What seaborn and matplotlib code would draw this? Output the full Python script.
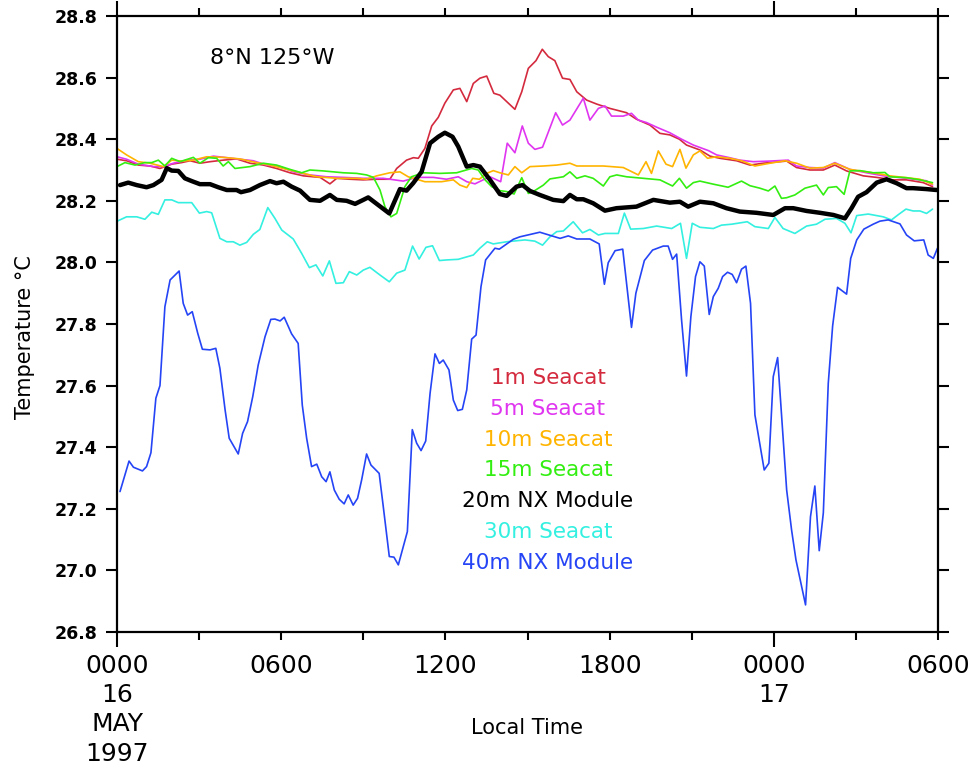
import numpy as np
import pandas as pd
import seaborn as sns
import matplotlib
matplotlib.use("Agg")
import matplotlib.pyplot as plt

# -------------------------
# data (hours since 0000 16 May 1997, temperature degC)
# -------------------------
t_1m = [0.0, 0.35, 0.78, 1.21, 1.57, 2.0, 2.36, 2.67, 3.03, 3.40, 3.88, 4.37, 4.86, 5.35, 5.83, 6.32,
        6.81, 7.42, 7.78, 8.03, 8.51, 9.0, 9.49, 9.97, 10.22, 10.58, 10.83, 11.01, 11.25, 11.50, 11.74,
        11.98, 12.29, 12.53, 12.78, 13.02, 13.26, 13.51, 13.77, 13.99, 14.30, 14.54, 14.79, 15.03, 15.31,
        15.54, 15.76, 16.0, 16.28, 16.55, 16.80, 17.16, 17.53, 18.01, 18.62, 18.98, 19.47, 19.84, 20.20,
        20.55, 20.81, 21.30, 21.67, 22.03, 22.64, 23.13, 23.61, 24.47, 24.83, 25.32, 25.81, 26.23, 26.66,
        27.27, 27.76, 28.36, 28.85, 29.46, 29.80]
v_1m = [28.335, 28.33, 28.316, 28.313, 28.305, 28.319, 28.324, 28.33, 28.322, 28.327, 28.332, 28.336,
        28.322, 28.316, 28.305, 28.291, 28.281, 28.276, 28.255, 28.273, 28.27, 28.268, 28.27, 28.27,
        28.305, 28.332, 28.34, 28.338, 28.37, 28.443, 28.471, 28.517, 28.56, 28.565, 28.522, 28.581,
        28.598, 28.605, 28.549, 28.543, 28.517, 28.497, 28.554, 28.63, 28.655, 28.692, 28.668, 28.655,
        28.598, 28.594, 28.554, 28.527, 28.514, 28.50, 28.486, 28.465, 28.446, 28.419, 28.414, 28.40,
        28.381, 28.365, 28.345, 28.338, 28.33, 28.316, 28.322, 28.329, 28.308, 28.30, 28.30, 28.316,
        28.297, 28.281, 28.276, 28.268, 28.268, 28.259, 28.246]

t_5m = [0.0, 0.35, 0.78, 1.33, 1.69, 2.06, 2.55, 3.03, 3.52, 4.01, 4.49, 4.98, 5.47, 5.96, 6.44, 7.05,
        7.66, 8.27, 9.0, 9.73, 10.46, 10.95, 11.56, 12.04, 12.47, 12.78, 13.08, 13.38, 13.63, 14.02,
        14.26, 14.54, 14.81, 15.03, 15.27, 15.55, 16.03, 16.28, 16.55, 17.04, 17.28, 17.59, 17.83, 18.07,
        18.50, 18.80, 19.05, 19.35, 19.72, 20.20, 20.63, 21.06, 21.61, 21.91, 22.33, 22.76, 23.25, 23.86,
        24.53, 24.83, 25.32, 25.81, 26.23, 26.78, 27.39, 28.0, 28.85, 29.58, 29.80]
v_5m = [28.343, 28.335, 28.319, 28.311, 28.311, 28.322, 28.332, 28.335, 28.345, 28.34, 28.335, 28.33,
        28.316, 28.311, 28.294, 28.284, 28.278, 28.276, 28.273, 28.273, 28.264, 28.276, 28.276, 28.27,
        28.278, 28.262, 28.255, 28.268, 28.278, 28.262, 28.387, 28.356, 28.443, 28.387, 28.367, 28.374,
        28.486, 28.446, 28.462, 28.533, 28.462, 28.50, 28.508, 28.475, 28.475, 28.484, 28.462, 28.454,
        28.439, 28.421, 28.40, 28.381, 28.363, 28.349, 28.341, 28.332, 28.327, 28.329, 28.332, 28.313,
        28.308, 28.306, 28.324, 28.302, 28.291, 28.281, 28.273, 28.265, 28.251]

t_10m = [0.0, 0.35, 0.78, 1.21, 1.69, 2.0, 2.36, 2.79, 3.28, 3.88, 4.49, 5.10, 5.59, 6.20, 6.81, 7.30,
         8.03, 8.76, 9.12, 9.49, 9.97, 10.34, 10.64, 10.95, 11.25, 11.86, 12.29, 12.53, 12.78, 13.0,
         13.24, 13.51, 13.75, 13.99, 14.30, 14.54, 14.79, 15.09, 15.58, 16.07, 16.55, 16.80, 17.28, 17.77,
         18.50, 19.05, 19.33, 19.53, 19.78, 20.06, 20.30, 20.57, 20.79, 21.06, 21.30, 21.58, 21.91, 22.40,
         22.82, 23.31, 23.86, 24.41, 24.83, 25.32, 25.81, 26.23, 26.78, 27.15, 27.76, 28.24, 28.85, 29.34,
         29.80]
v_10m = [28.37, 28.349, 28.327, 28.322, 28.311, 28.332, 28.329, 28.332, 28.343, 28.341, 28.336, 28.324,
         28.316, 28.302, 28.289, 28.278, 28.273, 28.273, 28.27, 28.281, 28.291, 28.294, 28.278, 28.27,
         28.262, 28.262, 28.268, 28.251, 28.243, 28.273, 28.27, 28.289, 28.298, 28.291, 28.284, 28.311,
         28.291, 28.311, 28.313, 28.316, 28.322, 28.313, 28.313, 28.313, 28.308, 28.284, 28.327, 28.289,
         28.362, 28.319, 28.311, 28.367, 28.306, 28.349, 28.362, 28.338, 28.343, 28.338, 28.33, 28.313,
         28.322, 28.33, 28.322, 28.306, 28.308, 28.322, 28.302, 28.297, 28.289, 28.281, 28.275, 28.27,
         28.254]

t_15m = [0.0, 0.29, 0.66, 1.02, 1.27, 1.51, 1.75, 2.0, 2.30, 2.79, 3.03, 3.34, 3.64, 3.88, 4.07, 4.31,
         4.86, 5.35, 5.83, 6.32, 6.75, 7.05, 7.54, 8.27, 8.76, 9.12, 9.37, 9.61, 9.79, 10.01, 10.22, 10.52,
         10.76, 11.19, 11.80, 12.41, 12.96, 13.20, 13.45, 13.69, 13.99, 14.24, 14.51, 14.79, 15.03, 15.21,
         15.58, 15.82, 16.31, 16.55, 16.80, 17.10, 17.40, 17.77, 18.01, 18.26, 18.62, 19.23, 19.84, 20.30,
         20.55, 20.81, 21.06, 21.30, 21.79, 22.33, 22.82, 23.13, 23.49, 23.80, 24.04, 24.28, 24.47, 24.77,
         25.14, 25.56, 25.81, 25.99, 26.29, 26.57, 26.78, 27.15, 27.63, 28.06, 28.24, 28.85, 29.34, 29.80]
v_15m = [28.311, 28.324, 28.316, 28.324, 28.324, 28.332, 28.313, 28.338, 28.327, 28.341, 28.322, 28.34,
         28.338, 28.313, 28.327, 28.305, 28.311, 28.322, 28.316, 28.302, 28.291, 28.30, 28.297, 28.291,
         28.289, 28.284, 28.276, 28.235, 28.181, 28.148, 28.159, 28.246, 28.278, 28.291, 28.289, 28.291,
         28.305, 28.30, 28.268, 28.246, 28.233, 28.23, 28.222, 28.275, 28.224, 28.23, 28.251, 28.271,
         28.278, 28.294, 28.273, 28.281, 28.273, 28.248, 28.278, 28.284, 28.278, 28.273, 28.268, 28.248,
         28.273, 28.241, 28.259, 28.264, 28.254, 28.244, 28.264, 28.249, 28.241, 28.232, 28.248, 28.208,
         28.21, 28.219, 28.241, 28.251, 28.219, 28.243, 28.246, 28.221, 28.297, 28.298, 28.291, 28.292,
         28.278, 28.275, 28.268, 28.259]

t_20m = [0.11, 0.41, 0.72, 1.08, 1.33, 1.63, 1.82, 2.0, 2.24, 2.48, 2.73, 3.03, 3.40, 3.70, 4.01, 4.37,
         4.53, 4.86, 5.22, 5.59, 5.83, 6.08, 6.38, 6.69, 7.05, 7.42, 7.78, 8.03, 8.39, 8.70, 9.0, 9.18,
         9.55, 9.95, 10.34, 10.58, 10.82, 11.13, 11.44, 11.74, 11.98, 12.26, 12.47, 12.78, 13.02, 13.26,
         13.63, 13.99, 14.24, 14.60, 14.82, 15.09, 15.45, 15.94, 16.31, 16.55, 16.80, 17.04, 17.40, 17.83,
         18.25, 18.98, 19.60, 20.20, 20.57, 20.87, 21.30, 21.79, 22.27, 22.76, 23.37, 23.98, 24.41, 24.71,
         25.20, 25.69, 26.18, 26.60, 26.84, 27.08, 27.39, 27.76, 28.12, 28.49, 28.85, 29.09, 29.58, 29.95]
v_20m = [28.251, 28.259, 28.251, 28.244, 28.251, 28.268, 28.306, 28.298, 28.297, 28.273, 28.264, 28.254,
         28.254, 28.244, 28.235, 28.235, 28.228, 28.235, 28.251, 28.264, 28.257, 28.262, 28.246, 28.233,
         28.203, 28.20, 28.219, 28.203, 28.20, 28.19, 28.203, 28.211, 28.186, 28.159, 28.238, 28.233,
         28.257, 28.294, 28.387, 28.408, 28.421, 28.408, 28.376, 28.311, 28.316, 28.311, 28.268, 28.222,
         28.216, 28.246, 28.251, 28.232, 28.219, 28.203, 28.199, 28.219, 28.205, 28.205, 28.192, 28.168,
         28.176, 28.181, 28.203, 28.194, 28.197, 28.181, 28.197, 28.192, 28.176, 28.165, 28.161, 28.154,
         28.176, 28.176, 28.167, 28.161, 28.154, 28.143, 28.176, 28.213, 28.228, 28.259, 28.27, 28.257,
         28.241, 28.241, 28.238, 28.235]

t_30m = [0.01, 0.35, 0.72, 1.02, 1.27, 1.51, 1.75, 2.0, 2.24, 2.73, 3.01, 3.28, 3.46, 3.76, 4.01, 4.25,
         4.49, 4.74, 4.98, 5.22, 5.51, 5.77, 6.02, 6.44, 6.75, 7.03, 7.27, 7.52, 7.76, 8.00, 8.27, 8.49,
         8.76, 9.0, 9.24, 9.61, 9.95, 10.22, 10.52, 10.80, 11.04, 11.29, 11.53, 11.78, 12.04, 12.47, 13.02,
         13.26, 13.53, 13.75, 14.24, 14.91, 15.27, 15.55, 15.82, 16.07, 16.31, 16.67, 17.01, 17.28, 17.59,
         17.83, 18.32, 18.54, 18.77, 19.23, 19.72, 20.27, 20.59, 20.81, 21.02, 21.30, 21.79, 22.09, 22.46,
         23.03, 23.31, 23.80, 24.04, 24.34, 24.77, 25.20, 25.56, 25.87, 26.29, 26.60, 26.82, 27.03, 27.45,
         28.0, 28.30, 28.58, 28.83, 29.09, 29.34, 29.58, 29.80]
v_30m = [28.134, 28.148, 28.148, 28.14, 28.163, 28.156, 28.203, 28.203, 28.194, 28.194, 28.16, 28.165,
         28.161, 28.078, 28.067, 28.067, 28.056, 28.065, 28.091, 28.107, 28.178, 28.143, 28.105, 28.076,
         28.029, 27.983, 27.992, 27.956, 28.005, 27.932, 27.934, 27.97, 27.959, 27.975, 27.984, 27.959,
         27.937, 27.965, 27.975, 28.053, 28.011, 28.049, 28.054, 28.006, 28.008, 28.01, 28.024, 28.046,
         28.067, 28.06, 28.067, 28.073, 28.069, 28.056, 28.083, 28.10, 28.102, 28.132, 28.096, 28.107,
         28.089, 28.094, 28.094, 28.16, 28.108, 28.11, 28.118, 28.11, 28.127, 28.013, 28.127, 28.114,
         28.11, 28.121, 28.124, 28.132, 28.116, 28.11, 28.146, 28.11, 28.094, 28.118, 28.124, 28.14,
         28.143, 28.127, 28.096, 28.152, 28.157, 28.148, 28.138, 28.157, 28.173, 28.167, 28.167, 28.159,
         28.173]

t_40m = [0.11, 0.44, 0.6, 0.93, 1.08, 1.24, 1.42, 1.57, 1.75, 1.94, 2.27, 2.42, 2.58, 2.75, 2.95, 3.12,
         3.40, 3.61, 3.76, 3.95, 4.10, 4.43, 4.59, 4.77, 4.96, 5.16, 5.41, 5.62, 5.77, 5.96, 6.11, 6.38,
         6.62, 6.77, 6.93, 7.11, 7.30, 7.48, 7.64, 7.78, 7.94, 8.12, 8.30, 8.45, 8.63, 8.79, 8.94, 9.12,
         9.28, 9.58, 9.73, 9.95, 10.12, 10.28, 10.61, 10.79, 10.95, 11.11, 11.28, 11.44, 11.62, 11.78,
         11.92, 12.13, 12.29, 12.45, 12.62, 12.78, 12.96, 13.12, 13.30, 13.47, 13.81, 13.97, 14.48, 14.72,
         15.45, 16.19, 16.49, 16.80, 17.28, 17.62, 17.81, 17.95, 18.20, 18.48, 18.80, 18.96, 19.27, 19.57,
         19.96, 20.14, 20.30, 20.45, 20.63, 20.81, 20.97, 21.14, 21.30, 21.46, 21.64, 21.79, 21.97, 22.13,
         22.31, 22.48, 22.64, 22.82, 22.98, 23.15, 23.31, 23.65, 23.82, 23.98, 24.14, 24.47, 24.65, 24.81,
         25.16, 25.34, 25.50, 25.66, 25.81, 25.99, 26.15, 26.33, 26.66, 26.81, 27.03, 27.29, 27.63, 27.88,
         28.18, 28.61, 28.85, 29.13, 29.48, 29.64, 29.83, 29.98]
v_40m = [27.256, 27.355, 27.335, 27.323, 27.337, 27.382, 27.559, 27.60, 27.856, 27.943, 27.972, 27.867,
         27.829, 27.84, 27.77, 27.718, 27.716, 27.721, 27.656, 27.521, 27.429, 27.378, 27.445, 27.483,
         27.564, 27.667, 27.759, 27.815, 27.816, 27.81, 27.822, 27.768, 27.737, 27.537, 27.429, 27.337,
         27.345, 27.304, 27.288, 27.32, 27.261, 27.231, 27.216, 27.245, 27.212, 27.234, 27.294, 27.378,
         27.342, 27.315, 27.207, 27.045, 27.043, 27.018, 27.126, 27.457, 27.413, 27.389, 27.42, 27.575,
         27.703, 27.672, 27.683, 27.651, 27.553, 27.519, 27.523, 27.586, 27.751, 27.764, 27.921, 28.008,
         28.046, 28.043, 28.075, 28.083, 28.098, 28.078, 28.086, 28.076, 28.076, 28.06, 27.929, 27.999,
         28.038, 28.043, 27.789, 27.90, 28.006, 28.04, 28.053, 28.053, 28.01, 28.027, 27.813, 27.631,
         27.824, 27.954, 28.002, 27.988, 27.831, 27.889, 27.916, 27.954, 27.968, 27.961, 27.934, 27.978,
         27.988, 27.867, 27.505, 27.326, 27.348, 27.629, 27.691, 27.261, 27.131, 27.034, 26.888, 27.174,
         27.274, 27.064, 27.187, 27.607, 27.794, 27.919, 27.897, 28.013, 28.073, 28.108, 28.124, 28.134,
         28.138, 28.125, 28.089, 28.07, 28.073, 28.024, 28.013, 28.046]

labels = ["1m Seacat", "5m Seacat", "10m Seacat", "15m Seacat", "20m NX Module", "30m Seacat", "40m NX Module"]
colors = ["#d42a3e", "#e035f0", "#ffb400", "#33ee11", "#000000", "#33f0e0", "#2544f5"]
times = [t_1m, t_5m, t_10m, t_15m, t_20m, t_30m, t_40m]
temps = [v_1m, v_5m, v_10m, v_15m, v_20m, v_30m, v_40m]

xtick_pos = [0, 6, 12, 18, 24, 30]
xtick_lab = ["0000\n16\nMAY\n1997", "0600", "1200", "1800", "0000\n17", "0600"]
ytick_pos = [26.8, 27.0, 27.2, 27.4, 27.6, 27.8, 28.0, 28.2, 28.4, 28.6, 28.8]

# -------------------------
# plot
# -------------------------
sns.set_style("ticks")
plt.rcParams["font.family"] = ["DejaVu Sans"]
plt.rcParams.update({"text.color": "black", "axes.labelcolor": "black",
                     "xtick.color": "black", "ytick.color": "black"})

fig = plt.figure(figsize=(9.74, 7.67), dpi=100)
ax = fig.add_axes([117 / 974, 1 - 632 / 767, (938 - 117) / 974, (632 - 16) / 767])

draw_order = [0, 1, 2, 3, 5, 6, 4]
for i in draw_order:
    df = pd.DataFrame({"hour": times[i], "temp": temps[i]})
    sns.lineplot(data=df, x="hour", y="temp", color=colors[i], sort=False, estimator=None,
                 lw=3.2 if i == 4 else 1.2, ax=ax)

ax.set_xlim(0, 30)
ax.set_ylim(26.8, 28.8)
ax.set_xticks(xtick_pos)
ax.set_xticklabels(xtick_lab, fontsize=18, linespacing=1.27, va="top")
ax.set_xticks([3, 9, 15, 21, 27], minor=True)
ax.set_yticks(ytick_pos)
ax.set_yticklabels([f"{v:.1f}" for v in ytick_pos], fontsize=12.5, fontweight="bold")

ax.tick_params(axis="x", which="both", direction="out", length=6, width=1.5,
               top=True, bottom=True, pad=10, colors="black")
ax.tick_params(axis="y", which="both", direction="out", length=8, width=1.5,
               left=True, right=True, pad=6, colors="black")
# longer ticks at day boundaries
for tk, loc in zip(ax.xaxis.get_major_ticks(), xtick_pos):
    if loc in (0, 24):
        tk.tick1line.set_markersize(11)
        tk.tick2line.set_markersize(11)

for sp in ax.spines.values():
    sp.set_visible(True)
    sp.set_linewidth(1.6)
    sp.set_color("black")

ax.set_xlabel("")
ax.set_ylabel("")
fig.text(527 / 974, 1 - 728 / 767, "Local Time", ha="center", va="center", fontsize=15, color="black")
fig.text(25 / 974, 1 - 337 / 767, "Temperature \u00b0C", ha="center", va="center",
         rotation=90, fontsize=15, color="black")

ax.text((210 - 117) / 821, 1 - (58 - 16) / 616, "8\u00b0N 125\u00b0W",
        transform=ax.transAxes, ha="left", va="center", fontsize=16, color="black")

legend_y = [378, 409, 440, 470, 501, 532, 563]
for lab, col, yy in zip(labels, colors, legend_y):
    ax.text((548 - 117) / 821, 1 - (yy - 16) / 616, lab, transform=ax.transAxes,
            ha="center", va="center", fontsize=15.5, color=col)

fig.savefig("out.png", dpi=100)
